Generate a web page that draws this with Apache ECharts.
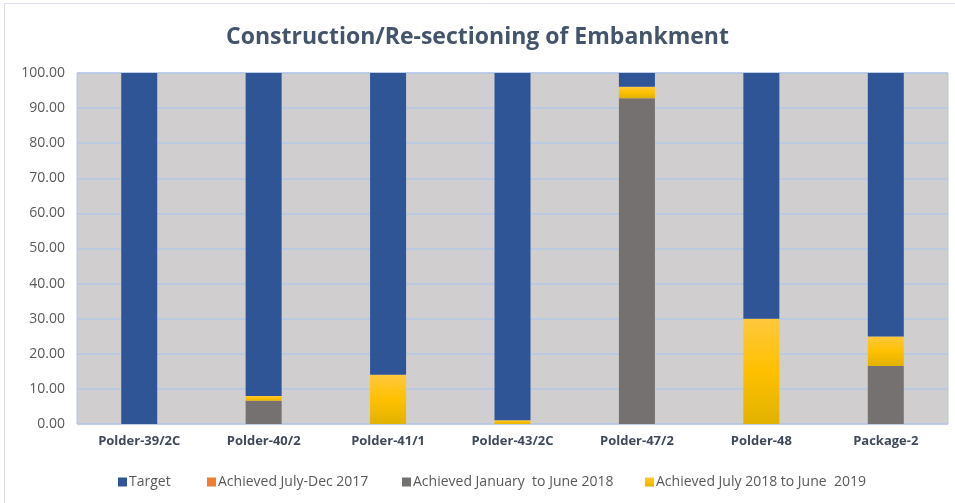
<!DOCTYPE html>
<html>
<head>
<meta charset="utf-8">
<script src="https://cdn.jsdelivr.net/npm/echarts@6/dist/echarts.min.js"></script>
<style>
html, body { margin: 0; padding: 0; background: #fff; }
#chart { width: 955px; height: 503px; }
</style>
</head>
<body>
<div id="chart"></div>
<script>
var categories = ['Polder-39/2C', 'Polder-40/2', 'Polder-41/1', 'Polder-43/2C', 'Polder-47/2', 'Polder-48', 'Package-2'];
var achievedDec2017 = [0, 0, 0, 0, 0, 0, 0];
var achievedJun2018 = [0, 6.6, 0, 0, 92.8, 0, 16.5];
var achievedJun2019 = [0, 1.4, 14.0, 1.1, 3.3, 30.0, 8.4];
var target = [100, 92.0, 86.0, 98.9, 3.9, 70.0, 75.1];
var yTicks = [0, 10, 20, 30, 40, 50, 60, 70, 80, 90, 100];
var legendNames = ['Target', 'Achieved July-Dec 2017', 'Achieved January  to June 2018', 'Achieved July 2018 to June  2019'];
var legendLeft = [113, 202, 397, 640];

var chart = echarts.init(document.getElementById('chart'));
var fontFam = '"Open Sans", "Liberation Sans", sans-serif';
var yellow = new echarts.graphic.LinearGradient(0, 0, 0, 1, [
	{ offset: 0, color: '#FFC83D' },
	{ offset: 0.5, color: '#FFC000' },
	{ offset: 1, color: '#E1B200' }
]);

// one legend per item so the spacing can follow the original
var legends = legendNames.map(function(name, i) {
	return {
		data: [name],
		left: legendLeft[i],
		top: 470,
		itemWidth: 9,
		itemHeight: 9,
		icon: 'rect',
		textStyle: { fontFamily: fontFam, fontSize: 14, color: '#595959', padding: [0, 0, 0, -3] }
	};
});

var option = {
	animation: false,
	backgroundColor: '#fff',
	title: {
		text: 'Construction/Re-sectioning of Embankment',
		left: 'center',
		top: 21,
		textStyle: { fontFamily: fontFam, fontSize: 23, fontWeight: 'bold', color: '#44546A' }
	},
	graphic: [{
		type: 'rect',
		shape: { x: 4.5, y: 3.5, width: 960, height: 510 },
		style: { fill: 'none', stroke: '#D9DEE8', lineWidth: 1 }
	}],
	legend: legends,
	grid: { left: 77, right: 7, top: 73, bottom: 79, show: true, backgroundColor: '#D0CECE', borderColor: '#B4C7E7', borderWidth: 1 },
	xAxis: {
		type: 'category',
		data: categories,
		axisLine: { show: false },
		axisTick: { show: false },
		axisLabel: { fontFamily: fontFam, fontSize: 13, fontWeight: 'bold', color: '#404A58', margin: 11 }
	},
	yAxis: {
		type: 'value',
		min: yTicks[0],
		max: yTicks[yTicks.length - 1],
		interval: 10,
		axisLine: { show: false },
		axisTick: { show: false },
		splitLine: { lineStyle: { color: '#B4C7E7', width: 1.5 } },
		axisLabel: {
			fontFamily: fontFam, fontSize: 14, color: '#595959', margin: 12,
			formatter: function(v) { return v.toFixed(2); }
		}
	},
	series: [{
		name: 'Achieved July-Dec 2017',
		type: 'bar',
		stack: 'a',
		barWidth: 36,
		data: achievedDec2017,
		itemStyle: { color: '#ED7D31' }
	}, {
		name: 'Achieved January  to June 2018',
		type: 'bar',
		stack: 'a',
		data: achievedJun2018,
		itemStyle: { color: '#767171' }
	}, {
		name: 'Achieved July 2018 to June  2019',
		type: 'bar',
		stack: 'a',
		data: achievedJun2019,
		itemStyle: { color: yellow }
	}, {
		name: 'Target',
		type: 'bar',
		stack: 'a',
		data: target,
		itemStyle: { color: '#2F5597' }
	}]
};
chart.setOption(option);
</script>
</body>
</html>
